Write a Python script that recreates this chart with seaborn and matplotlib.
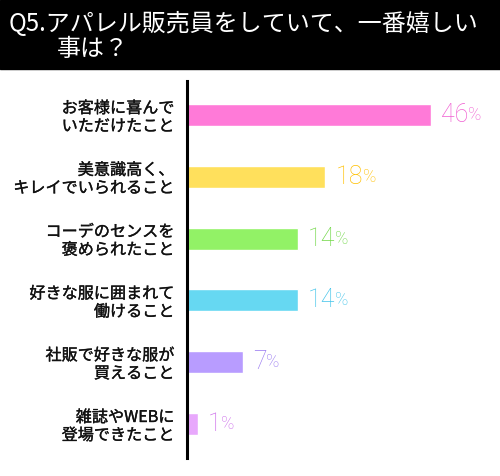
import matplotlib
matplotlib.use("Agg")
import matplotlib.pyplot as plt
import matplotlib.patheffects as pe
import seaborn as sns
from matplotlib.patches import Rectangle

# data
categories = ["お客様に喜んで\nいただけたこと",
              "美意識高く、\nキレイでいられること",
              "コーデのセンスを\n褒められたこと",
              "好きな服に囲まれて\n働けること",
              "社販で好きな服が\n買えること",
              "雑誌やWEBに\n登場できたこと"]
percent = [46, 18, 14, 14, 7, 1]
# bar lengths as drawn in the original (the first bar is shortened)
bar_len = [31, 17.6, 14.1, 14.1, 7.1, 1.35]
bar_colors = ["#FF7AD8", "#FFE05C", "#92F266", "#66D8F2", "#B89CFF", "#E8A8FC"]
text_colors = ["#F060D2", "#FFC000", "#72D848", "#44C4EA", "#9878F0", "#CC6CEA"]
title_lines = ["Q5.アパレル販売員をしていて、一番嬉しい", "事は？"]

sns.set_style("white")
plt.rcParams["font.family"] = ["Noto Sans CJK JP", "DejaVu Sans"]

fig = plt.figure(figsize=(5, 4.76), dpi=100)
ax = fig.add_axes([187 / 500, 1 - 458 / 476, 313 / 500, 377 / 476])

sns.barplot(x=bar_len, y=categories, hue=categories, palette=bar_colors, orient="h",
            width=0.356, legend=False, ax=ax, saturation=1)

ax.set_xlim(0, 39.8)
ax.set_ylim(5.55, -0.55)
for s in ["top", "right", "bottom"]:
    ax.spines[s].set_visible(False)
ax.spines["left"].set_linewidth(2.2)
ax.spines["left"].set_color("black")
ax.set_xticks([])
ax.tick_params(axis="y", length=0, pad=9)
for lab in ax.get_yticklabels():
    lab.set_fontsize(11.6)
    lab.set_fontweight("regular")
    lab.set_linespacing(1.08)
    lab.set_horizontalalignment("right")
    lab.set_multialignment("right")
    lab.set_color("#111111")
    lab.set_path_effects([pe.withStroke(linewidth=0.25, foreground="#111111")])
ax.set_xlabel("")
ax.set_ylabel("")

# percentage labels: number + smaller % sign
fig.canvas.draw()
renderer = fig.canvas.get_renderer()
for i, (v, L) in enumerate(zip(percent, bar_len)):
    t = ax.annotate(str(v), xy=(L, i), xytext=(10, 0), textcoords="offset pixels",
                    ha="left", va="center", fontsize=18, color=text_colors[i],
                    family=["Roboto", "DejaVu Sans"], fontweight="light")
    bb = t.get_window_extent(renderer)
    ax.annotate("%", xy=(bb.x1, bb.y0 + 3), xycoords="figure pixels",
                ha="left", va="bottom", fontsize=13, color=text_colors[i],
                family=["Roboto", "DejaVu Sans"], fontweight="light")

# title bar
fig.patches.append(Rectangle((0, 1 - 69 / 476), 1, 69 / 476, transform=fig.transFigure,
                             color="black", zorder=0))
fig.text(9 / 500, 1 - 24 / 476, title_lines[0], color="white", fontsize=17.3,
         ha="left", va="center")
fig.text(57 / 500, 1 - 49 / 476, title_lines[1], color="white", fontsize=17.3,
         ha="left", va="center")

fig.savefig("out.png", dpi=100)
